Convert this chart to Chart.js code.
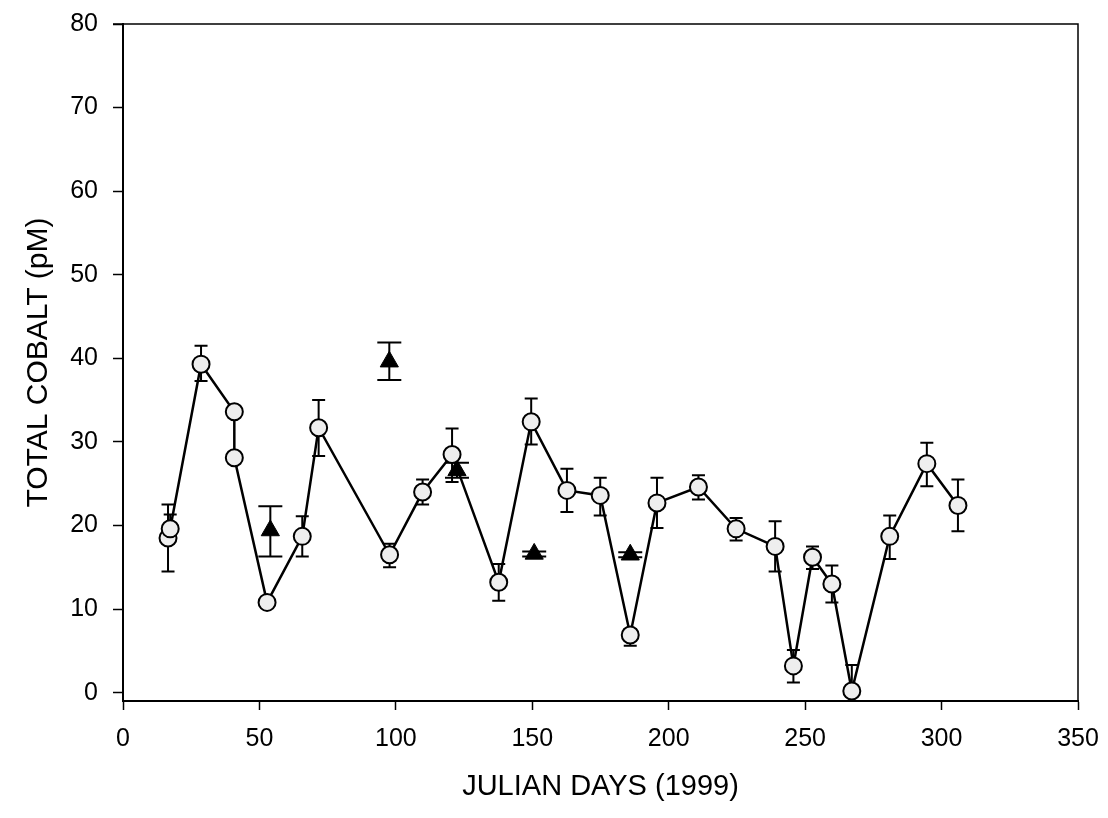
<!DOCTYPE html>
<html>
<head>
<meta charset="utf-8">
<script src="https://cdn.jsdelivr.net/npm/chart.js@4.4.1/dist/chart.umd.min.js"></script>
<style>
  body { margin: 0; background: #ffffff; }
  canvas { display: block; }
</style>
</head>
<body>
<canvas id="cobalto" width="1108" height="818"></canvas>
<script>
// tick labels
const xTicks = [0, 50, 100, 150, 200, 250, 300, 350];
const yTicks = [0, 10, 20, 30, 40, 50, 60, 70, 80];

// circles (joined by the line)
const days = [16.5, 17.3, 28.6, 40.8, 40.8, 52.8, 65.7, 71.7, 97.7, 109.8, 120.6, 137.7, 149.6, 162.7, 174.9, 185.9, 195.7, 210.9, 224.7, 239.0, 245.7, 252.7, 259.8, 267.1, 281.0, 294.6, 306.0];
const cobalt = [18.5, 19.6, 39.3, 33.6, 28.1, 10.8, 18.7, 31.7, 16.5, 24.0, 28.5, 13.2, 32.4, 24.2, 23.6, 6.9, 22.7, 24.6, 19.6, 17.5, 3.2, 16.2, 13.0, 0.2, 18.7, 27.4, 22.4];
const cobaltHigh = [22.5, 21.3, 41.5, 33.6, 28.1, 11.2, 21.1, 35.0, 17.8, 25.5, 31.6, 15.4, 35.2, 26.8, 25.7, 7.6, 25.7, 26.0, 20.9, 20.5, 5.1, 17.5, 15.2, 3.3, 21.2, 29.9, 25.5];
const cobaltLow = [14.5, 19.0, 37.3, 33.6, 28.1, 10.4, 16.3, 28.3, 15.0, 22.5, 25.2, 11.0, 29.7, 21.6, 21.2, 5.6, 19.7, 23.1, 18.2, 14.5, 1.2, 14.8, 10.8, -1.0, 16.0, 24.7, 19.3];

// triangles
const triDays = [54.0, 97.6, 122.4, 150.7, 185.9];
const triCobalt = [19.4, 39.6, 26.6, 16.6, 16.5];
const triHigh = [22.3, 41.9, 27.5, 16.9, 16.8];
const triLow = [16.3, 37.4, 25.7, 16.3, 16.2];

const fonte = "'Liberation Sans', Arial, sans-serif";

const circulos = days.map((d, i) => ({ x: d, y: cobalt[i] }));
const triangulos = triDays.map((d, i) => ({ x: d, y: triCobalt[i] }));

// error bars, drawn under the markers
const barrasErro = {
  id: "barrasErro",
  beforeDatasetsDraw(chart) {
    const ctx = chart.ctx;
    const sx = chart.scales.x;
    const sy = chart.scales.y;
    const desenha = (xs, lows, highs, cap) => {
      xs.forEach((d, i) => {
        if (highs[i] === lows[i]) return;
        const px = sx.getPixelForValue(d);
        const y1 = sy.getPixelForValue(lows[i]);
        const y2 = sy.getPixelForValue(highs[i]);
        ctx.beginPath();
        ctx.moveTo(px, y1);
        ctx.lineTo(px, y2);
        ctx.moveTo(px - cap, y1);
        ctx.lineTo(px + cap, y1);
        ctx.moveTo(px - cap, y2);
        ctx.lineTo(px + cap, y2);
        ctx.stroke();
      });
    };
    ctx.save();
    ctx.strokeStyle = "#000000";
    ctx.lineWidth = 2;
    desenha(days, cobaltLow, cobaltHigh, 6.5);
    desenha(triDays, triLow, triHigh, 12);
    ctx.restore();
  },
  afterDraw(chart) {
    // top and right frame
    const a = chart.chartArea;
    const ctx = chart.ctx;
    ctx.save();
    ctx.strokeStyle = "#000000";
    ctx.lineWidth = 1.5;
    ctx.beginPath();
    ctx.moveTo(a.left - 10, a.top);
    ctx.lineTo(a.right, a.top);
    ctx.lineTo(a.right, a.bottom);
    ctx.stroke();
    ctx.restore();
  },
};

new Chart(document.getElementById("cobalto"), {
  type: "scatter",
  data: {
    datasets: [
      {
        label: "Cobalto total",
        data: circulos,
        showLine: true,
        borderColor: "#000000",
        borderWidth: 2.5,
        pointStyle: "circle",
        pointRadius: 8.5,
        pointBackgroundColor: "#eeeeee",
        pointBorderColor: "#000000",
        pointBorderWidth: 2,
        clip: false,
      },
      {
        label: "Triangulos",
        data: triangulos,
        showLine: false,
        pointStyle: "triangle",
        pointRadius: 10.5,
        pointBackgroundColor: "#000000",
        pointBorderColor: "#000000",
        pointBorderWidth: 1,
        clip: false,
      },
    ],
  },
  options: {
    responsive: false,
    animation: false,
    layout: {
      padding: { top: 24, right: 30, bottom: 0, left: 0 },
    },
    scales: {
      x: {
        type: "linear",
        position: "bottom",
        min: 0,
        max: 350,
        afterBuildTicks: (s) => {
          s.ticks = xTicks.map((v) => ({ value: v }));
        },
        afterFit: (s) => {
          s.height = 117;
          s.paddingLeft = 0;
          s.paddingRight = 0;
        },
        grid: {
          drawOnChartArea: false,
          tickLength: 9,
          tickColor: "#000000",
          tickWidth: 1.5,
        },
        border: { color: "#000000", width: 2 },
        ticks: {
          color: "#000000",
          padding: 14,
          maxRotation: 0,
          autoSkip: false,
          font: { family: fonte, size: 25 },
        },
        title: {
          display: true,
          text: "JULIAN DAYS (1999)",
          color: "#000000",
          font: { family: fonte, size: 29 },
          padding: { top: 0, bottom: 14 },
        },
      },
      y: {
        type: "linear",
        min: -1,
        max: 80,
        afterBuildTicks: (s) => {
          s.ticks = yTicks.map((v) => ({ value: v }));
        },
        afterFit: (s) => {
          s.width = 123;
          s.paddingTop = 0;
          s.paddingBottom = 0;
        },
        grid: {
          drawOnChartArea: false,
          tickLength: 10,
          tickColor: "#000000",
          tickWidth: 1.5,
        },
        border: { color: "#000000", width: 2 },
        ticks: {
          color: "#000000",
          padding: 15,
          font: { family: fonte, size: 25 },
        },
        title: {
          display: true,
          text: "TOTAL COBALT (pM)",
          color: "#000000",
          font: { family: fonte, size: 30 },
          padding: { top: 21, bottom: 0 },
        },
      },
    },
    plugins: {
      legend: { display: false },
      tooltip: { enabled: false },
    },
  },
  plugins: [barrasErro],
});
</script>
</body>
</html>
